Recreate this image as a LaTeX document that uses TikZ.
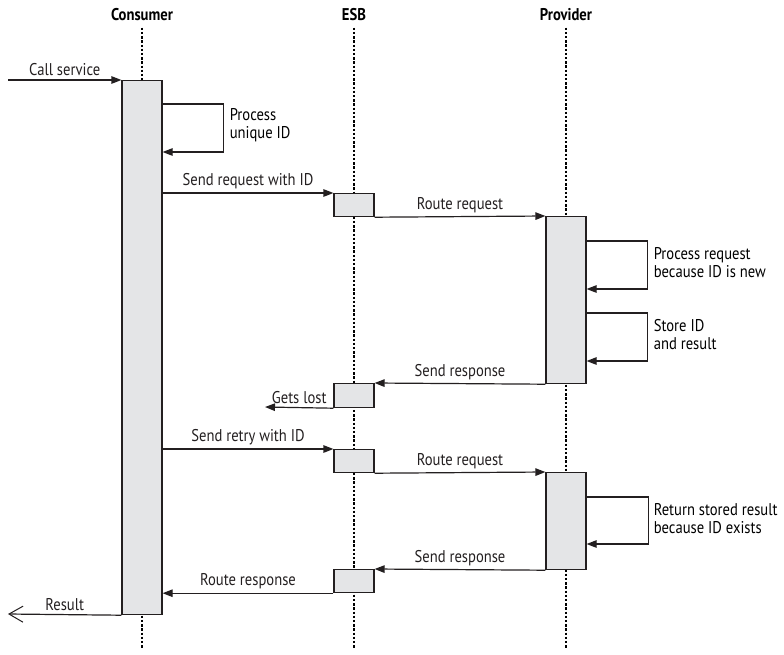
\documentclass[tikz,border=0pt]{standalone}
\usepackage{fontspec}
\setmainfont[FakeStretch=0.86]{PT Sans}
\usepackage{tikz}
\usetikzlibrary{arrows.meta,positioning,calc}
\definecolor{grisBoite}{RGB}{228,229,231}
\definecolor{grisTrait}{RGB}{35,31,32}

\begin{document}
\begin{tikzpicture}[x=1pt,y=-1pt,font=\fontsize{17}{18}\selectfont,
  tete/.style={font=\fontsize{17}{18}\selectfont\bfseries},
  vie/.style={line width=2.8pt,dash pattern=on 2.4pt off 1.8pt,black,shorten <=3pt},
  activ/.style={rectangle,draw=grisTrait,fill=grisBoite,line width=1.2pt,
                minimum width=40pt,inner sep=0pt,anchor=north},
  msg/.style={-{Triangle[length=10pt,width=7.5pt]},line width=1.2pt,grisTrait},
  retour/.style={-{Straight Barb[length=14pt,width=16pt,line width=1pt]},line width=1.2pt,grisTrait},
  note/.style={anchor=west,align=left,inner sep=0pt}]

  \useasboundingbox (0,0) rectangle (784,654);

  % participants
  \node[tete] (conshead) at (142,15) {Consumer};
  \node[tete] (esbhead) at (354,15) {ESB};
  \node[tete] (provhead) at (566,15) {Provider};

  \draw[vie] (conshead.south) -- (conshead.south |- 0,648);
  \draw[vie] (esbhead.south) -- (esbhead.south |- 0,648);
  \draw[vie] (provhead.south) -- (provhead.south |- 0,648);

  % activations
  \node[activ,minimum height=534pt] (cons) at (142,80) {};
  \node[activ,minimum height=23pt] (esbA) at (354,193) {};
  \node[activ,minimum height=24pt] (esbB) at (354,383) {};
  \node[activ,minimum height=23pt] (esbC) at (354,449) {};
  \node[activ,minimum height=23pt] (esbD) at (354,569) {};
  \node[activ,minimum height=167pt] (provA) at (566,216) {};
  \node[activ,minimum height=97pt] (provB) at (566,472) {};

  \coordinate (appel) at (8,80);
  \coordinate (perte) at (265,407);
  \coordinate (fin) at (8,614);

  % first call
  \draw[msg] (appel) -- (cons.north west) node[midway,above]{Call service};
  \draw[msg] ([yshift=-24pt]cons.north east) -- ++(61,0) -- ++(0,48)
    -- ([yshift=-72pt]cons.north east);
  \node[note] at ([xshift=67pt,yshift=-45pt]cons.north east) {Process\\unique ID};
  \draw[msg] (cons.east |- esbA.north) -- (esbA.north west)
    node[midway,above]{Send request with ID};
  \draw[msg] (esbA.south east) -- (provA.north west) node[midway,above]{Route request};
  \draw[msg] ([yshift=-25pt]provA.north east) -- ++(61,0) -- ++(0,48)
    -- ([yshift=-73pt]provA.north east);
  \node[note] at ([xshift=67pt,yshift=-47pt]provA.north east) {Process request\\because ID is new};
  \draw[msg] ([yshift=-97pt]provA.north east) -- ++(61,0) -- ++(0,48)
    -- ([yshift=-145pt]provA.north east);
  \node[note] at ([xshift=67pt,yshift=-119pt]provA.north east) {Store ID\\and result};
  \draw[msg] (provA.south west) -- (esbB.north east) node[midway,above]{Send response};
  \draw[msg] (esbB.south west) -- (perte) node[midway,above]{Gets lost};

  % retry
  \draw[msg] (cons.east |- esbC.north) -- (esbC.north west)
    node[midway,above]{Send retry with ID};
  \draw[msg] (esbC.south east) -- (provB.north west) node[midway,above]{Route request};
  \draw[msg] ([yshift=-25pt]provB.north east) -- ++(62,0) -- ++(0,47)
    -- ([yshift=-72pt]provB.north east);
  \node[note] at ([xshift=67pt,yshift=-47pt]provB.north east) {Return stored result\\because ID exists};
  \draw[msg] (provB.south west) -- (esbD.north east) node[midway,above]{Send response};
  \draw[msg] (esbD.south west) -- (cons.east |- esbD.south west)
    node[midway,above]{Route response};
  \draw[retour] (cons.south west) -- (fin) node[midway,above]{Result};
\end{tikzpicture}
\end{document}
